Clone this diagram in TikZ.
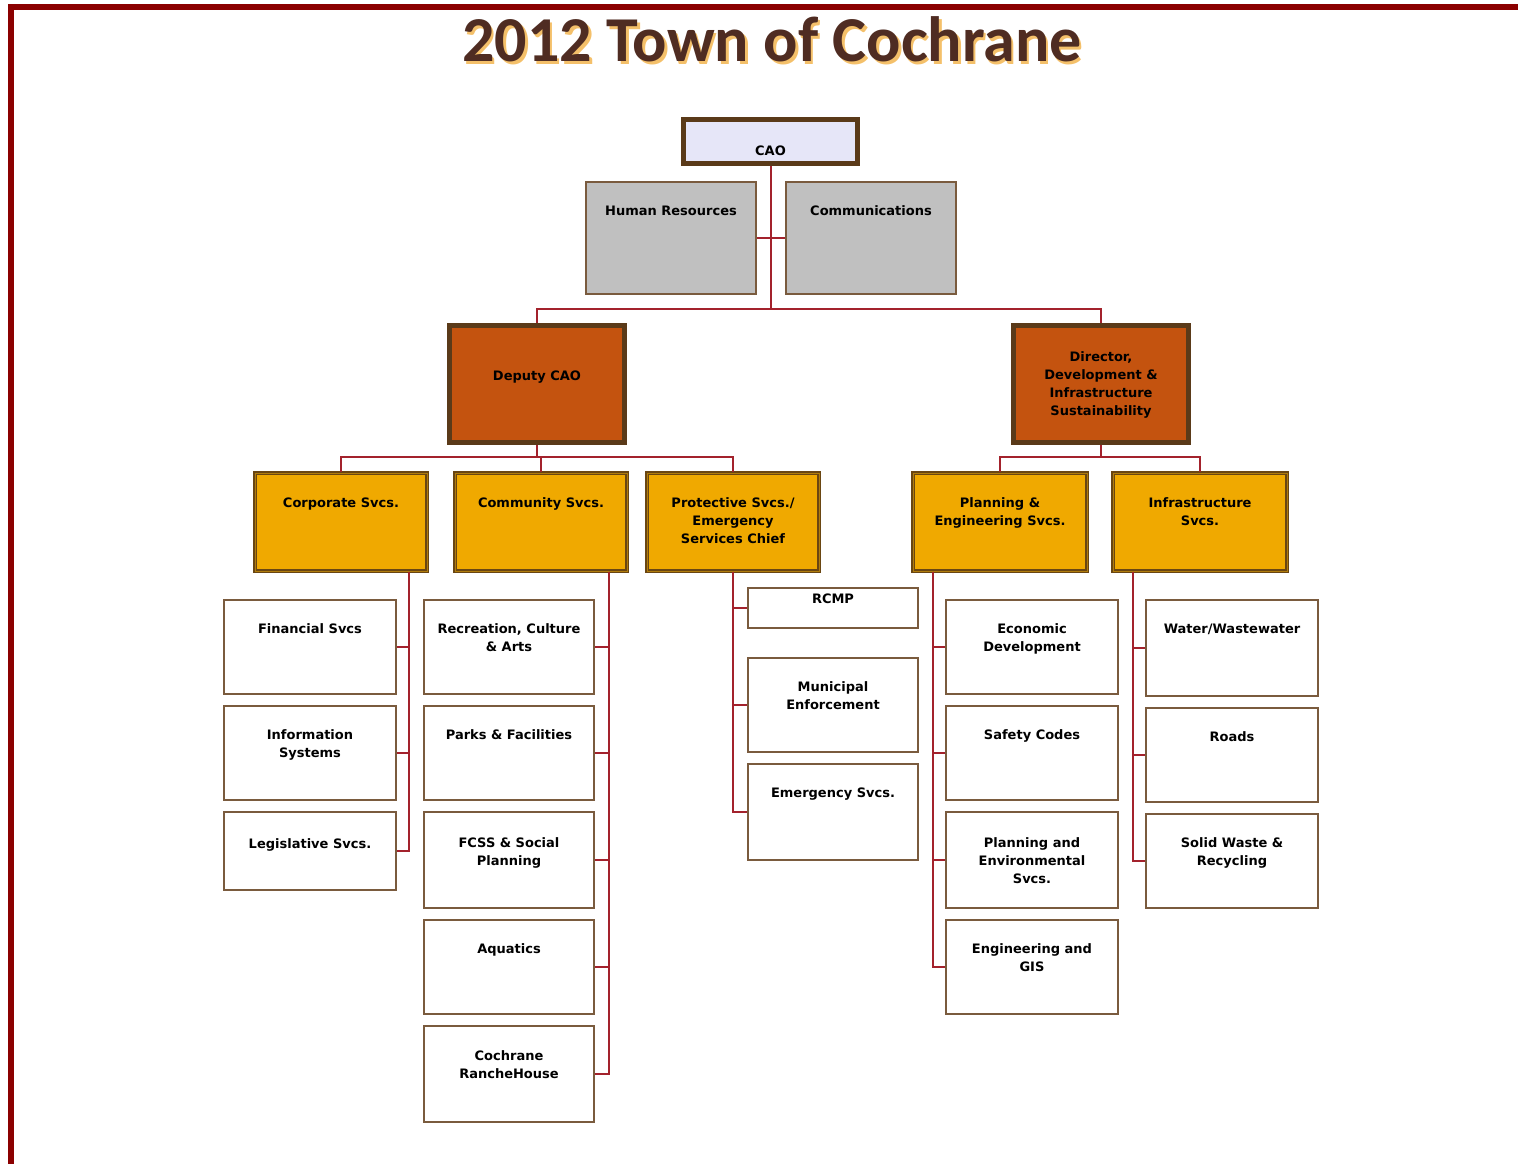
\documentclass[tikz,border=0pt]{standalone}
\usepackage{fontspec}
\setmainfont{DejaVu Sans}
\newfontfamily\titlefont{Carlito}
\usetikzlibrary{calc,positioning}

\definecolor{framered}{HTML}{8B0000}
\definecolor{linkred}{HTML}{A3222C}
\definecolor{titlebrown}{HTML}{4F2C22}
\definecolor{titleglow}{HTML}{F4C06A}
\definecolor{edgebrown}{HTML}{7A5B3E}
\definecolor{darkedge}{HTML}{5A3A19}
\definecolor{goldedge}{HTML}{6A4612}
\definecolor{goldinner}{HTML}{B07C0C}
\definecolor{caofill}{HTML}{E6E6F8}
\definecolor{staffgray}{HTML}{C0C0C0}
\definecolor{rust}{HTML}{C4530F}
\definecolor{gold}{HTML}{F0A900}

% text at the top of a box: height, top gap, lines
\newcommand{\toptext}[3]{\parbox[c][#1pt][t]{165pt}{\centering\vspace*{#2pt}#3\par}}

\begin{document}
\begin{tikzpicture}[x=1pt,y=-1pt,
    boxfont/.style={font=\fontsize{13}{18}\selectfont\bfseries},
    topbox/.style={boxfont,draw=darkedge,line width=5pt,fill=caofill,inner sep=0pt,minimum width=174pt},
    staffbox/.style={boxfont,draw=edgebrown,line width=2pt,fill=staffgray,inner sep=0pt,minimum width=170pt},
    deptbox/.style={boxfont,draw=darkedge,line width=5pt,fill=rust,inner sep=0pt,minimum width=175pt},
    divbox/.style={boxfont,draw=goldedge,line width=1.4pt,double=goldinner,double distance=1pt,fill=gold,inner sep=0pt},
    unitbox/.style={boxfont,draw=edgebrown,line width=2pt,fill=white,inner sep=0pt,minimum width=172pt},
    link/.style={draw=linkred,line width=2pt}]
    \useasboundingbox (0,0) rectangle (1518,1164);
    \draw[framered,line width=6pt] (11,1164) -- (11,7) -- (1518,7);

    \node[anchor=base,text=titleglow,font=\titlefont\fontsize{64}{64}\selectfont\bfseries] (titleglow) at (774.5,64.5) {2012 Town of Cochrane};
    \node[anchor=base,text=titlebrown,font=\titlefont\fontsize{64}{64}\selectfont\bfseries] (title) at (772,62) {2012 Town of Cochrane};

    \node[topbox] (cao) at (770.5,141.5) {\toptext{44}{26.5}{CAO}};
    \node[staffbox] (hr) at (671,238) {\toptext{112}{24}{Human Resources}};
    \node[staffbox] (comm) at (871,238) {\toptext{112}{24}{Communications}};

    \node[deptbox] (deputy) at (537,384) {\toptext{117}{45}{Deputy CAO}};
    \node[deptbox] (director) at (1101,384) {\toptext{117}{26.5}{Director,\\Development \&\\Infrastructure\\Sustainability}};

    \node[divbox,minimum width=172pt] (corp) at (341,522) {\toptext{98}{25}{Corporate Svcs.}};
    \node[divbox,minimum width=172pt] (community) at (541,522) {\toptext{98}{25}{Community Svcs.}};
    \node[divbox,minimum width=172pt] (protective) at (733,522) {\toptext{98}{25}{Protective Svcs./\\Emergency\\Services Chief}};
    \node[divbox,minimum width=174pt] (planning) at (1000,522) {\toptext{98}{25}{Planning \&\\Engineering Svcs.}};
    \node[divbox,minimum width=174pt] (infra) at (1200,522) {\toptext{98}{25}{Infrastructure\\Svcs.}};

    \node[unitbox,anchor=north] (financial) at (310,599) {\toptext{94}{24}{Financial Svcs}};
    \node[unitbox,below=10pt of financial] (infosys) {\toptext{94}{24}{Information\\Systems}};
    \node[unitbox,below=10pt of infosys] (legislative) {\toptext{78}{27}{Legislative Svcs.}};

    \node[unitbox,minimum width=170pt,anchor=north] (recreation) at (509,599) {\toptext{94}{24}{Recreation, Culture\\\& Arts}};
    \node[unitbox,minimum width=170pt,below=10pt of recreation] (parks) {\toptext{94}{24}{Parks \& Facilities}};
    \node[unitbox,minimum width=170pt,below=10pt of parks] (fcss) {\toptext{96}{26}{FCSS \& Social\\Planning}};
    \node[unitbox,minimum width=170pt,below=10pt of fcss] (aquatics) {\toptext{94}{24}{Aquatics}};
    \node[unitbox,minimum width=170pt,below=10pt of aquatics] (ranchehouse) {\toptext{96}{25}{Cochrane\\RancheHouse}};

    \node[unitbox,minimum width=170pt,anchor=north] (rcmp) at (833,587) {\toptext{40}{6}{RCMP}};
    \node[unitbox,minimum width=170pt,below=28pt of rcmp] (enforcement) {\toptext{94}{24}{Municipal\\Enforcement}};
    \node[unitbox,minimum width=170pt,below=10pt of enforcement] (emergency) {\toptext{96}{24}{Emergency Svcs.}};

    \node[unitbox,anchor=north] (economic) at (1032,599) {\toptext{94}{24}{Economic\\Development}};
    \node[unitbox,below=10pt of economic] (safety) {\toptext{94}{24}{Safety Codes}};
    \node[unitbox,below=10pt of safety] (environmental) {\toptext{96}{26}{Planning and\\Environmental\\Svcs.}};
    \node[unitbox,below=10pt of environmental] (gis) {\toptext{94}{24}{Engineering and\\GIS}};

    \node[unitbox,anchor=north] (water) at (1232,599) {\toptext{96}{24}{Water/Wastewater}};
    \node[unitbox,below=10pt of water] (roads) {\toptext{94}{24}{Roads}};
    \node[unitbox,below=10pt of roads] (waste) {\toptext{94}{24}{Solid Waste \&\\Recycling}};

    \draw[link] (hr.east) -- (comm.west);
    \draw[link] (cao.south) -- ++(0,143) -| (deputy.north);
    \draw[link] (cao.south) -- ++(0,143) -| (director.north);

    \foreach \n in {corp,community,protective}
        \draw[link] (deputy.south) -- ++(0,12) -| (\n.north);
    \foreach \n in {planning,infra}
        \draw[link] (director.south) -- ++(0,12) -| (\n.north);

    \coordinate (corpspine) at ($(corp.south)+(68,0)$);
    \coordinate (commspine) at ($(community.south)+(68,0)$);
    \coordinate (protspine) at (protective.south);
    \coordinate (planspine) at ($(planning.south)+(-67,0)$);
    \coordinate (infraspine) at ($(infra.south)+(-67,0)$);

    \foreach \n in {financial,infosys,legislative}
        \draw[link] (corpspine) |- (\n.east);
    \foreach \n in {recreation,parks,fcss,aquatics,ranchehouse}
        \draw[link] (commspine) |- (\n.east);
    \foreach \n in {rcmp,enforcement,emergency}
        \draw[link] (protspine) |- (\n.west);
    \foreach \n in {economic,safety,environmental,gis}
        \draw[link] (planspine) |- (\n.west);
    \foreach \n in {water,roads,waste}
        \draw[link] (infraspine) |- (\n.west);
\end{tikzpicture}
\end{document}
